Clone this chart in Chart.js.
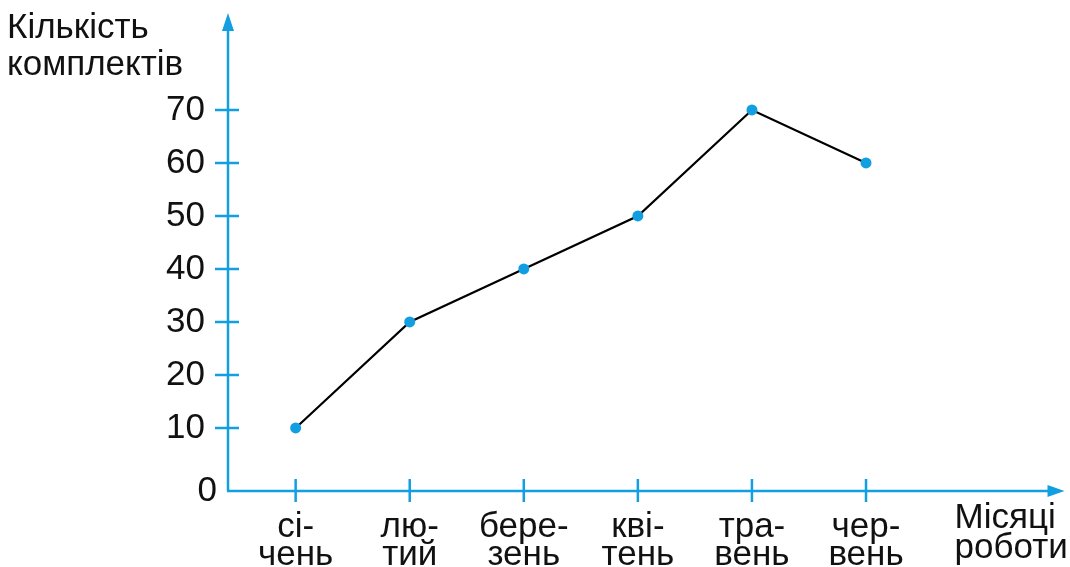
<!DOCTYPE html>
<html>
<head>
<meta charset="utf-8">
<script src="https://cdn.jsdelivr.net/npm/chart.js@4"></script>
<style>
body { margin: 0; background: #fff; }
#wrap { width: 1070px; height: 567px; position: relative; }
</style>
</head>
<body>
<div id="wrap"><canvas id="chart"></canvas></div>
<script>
// місяці, кількість комплектів
const months = [['сі-', 'чень'], ['лю-', 'тий'], ['бере-', 'зень'], ['кві-', 'тень'], ['тра-', 'вень'], ['чер-', 'вень']];
const kits = [10, 30, 40, 50, 70, 60];
const yTicks = [10, 20, 30, 40, 50, 60, 70];
const yTitle = ['Кількість', 'комплектів'];
const xTitle = ['Місяці', 'роботи'];

const blue = '#129fe2';
const family = '"Liberation Sans", Arial, sans-serif';

// axes with arrows and cross ticks
const axesPlugin = {
    id: 'axes',
    beforeDatasetsDraw(chart) {
        const { ctx, chartArea: a, scales: { x, y } } = chart;
        ctx.save();
        ctx.strokeStyle = blue;
        ctx.fillStyle = blue;
        ctx.lineWidth = 2.5;
        ctx.beginPath();
        ctx.moveTo(a.left, a.bottom);
        ctx.lineTo(a.left, a.top + 10);
        ctx.moveTo(a.left - 1, a.bottom);
        ctx.lineTo(a.right - 10, a.bottom);
        yTicks.forEach(v => {
            const py = y.getPixelForValue(v);
            ctx.moveTo(a.left - 13, py);
            ctx.lineTo(a.left + 11, py);
        });
        months.forEach((m, i) => {
            const px = x.getPixelForValue(i + 1);
            ctx.moveTo(px, a.bottom - 12);
            ctx.lineTo(px, a.bottom + 11);
        });
        ctx.stroke();

        ctx.beginPath();
        ctx.moveTo(a.left, a.top);
        ctx.lineTo(a.left - 6, a.top + 18);
        ctx.lineTo(a.left + 6, a.top + 18);
        ctx.closePath();
        ctx.fill();
        ctx.beginPath();
        ctx.moveTo(a.right, a.bottom);
        ctx.lineTo(a.right - 17, a.bottom - 6);
        ctx.lineTo(a.right - 17, a.bottom + 6);
        ctx.closePath();
        ctx.fill();

        // text
        ctx.fillStyle = '#111';
        ctx.font = '35px ' + family;
        ctx.textAlign = 'right';
        ctx.textBaseline = 'middle';
        ctx.fillText('0', a.left - 11, a.bottom);

        ctx.textAlign = 'left';
        ctx.textBaseline = 'alphabetic';
        ctx.fillText(yTitle[0], 7, 38);
        ctx.fillText(yTitle[1], 7, 75);
        ctx.fillText(xTitle[0], a.right - 110, 528);
        ctx.fillText(xTitle[1], a.right - 110, 558);
        ctx.restore();
    }
};

new Chart(document.getElementById('chart'), {
    type: 'line',
    data: {
        datasets: [{
            data: kits.map((v, i) => ({ x: i + 1, y: v })),
            borderColor: '#000',
            borderWidth: 2.2,
            tension: 0,
            pointRadius: 5.5,
            pointBorderWidth: 0,
            pointBackgroundColor: blue,
        }],
    },
    plugins: [axesPlugin],
    options: {
        responsive: true,
        maintainAspectRatio: false,
        animation: false,
        layout: { padding: { top: 13, right: 2, left: 0, bottom: 0 } },
        plugins: {
            legend: { display: false },
            tooltip: { enabled: false },
        },
        scales: {
            x: {
                type: 'linear',
                min: 0.407,
                max: 7.74,
                grid: { display: false, drawTicks: false },
                border: { display: false },
                afterBuildTicks: s => { s.ticks = months.map((m, i) => ({ value: i + 1 })); },
                afterFit: s => { s.height = 76; s.paddingLeft = 0; s.paddingRight = 0; },
                ticks: {
                    autoSkip: false,
                    maxRotation: 0,
                    padding: 22,
                    color: '#111',
                    font: { family: family, size: 35, lineHeight: 0.8 },
                    callback: v => months[Math.round(v) - 1],
                },
            },
            y: {
                min: -1.9,
                max: 88.3,
                grid: { display: false, drawTicks: false },
                border: { display: false },
                afterBuildTicks: s => { s.ticks = yTicks.map(v => ({ value: v })); },
                afterFit: s => { s.width = 228; s.paddingTop = 0; s.paddingBottom = 0; },
                ticks: {
                    padding: 23,
                    color: '#111',
                    font: { family: family, size: 35 },
                },
            },
        },
    },
});
</script>
</body>
</html>
